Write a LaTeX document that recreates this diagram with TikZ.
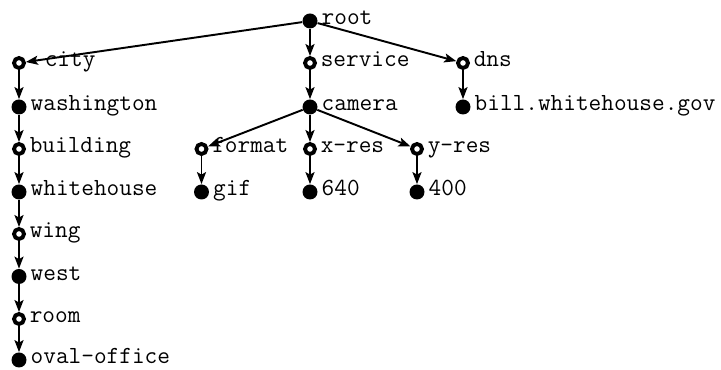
\documentclass[tikz,border=0pt]{standalone}
\usetikzlibrary{arrows.meta}
\begin{document}
\begin{tikzpicture}[
    full/.style = {circle, fill, inner sep = 0pt, minimum size = 0.3cm},
    hollow/.style = {circle, draw, line width = 2.2pt, inner sep = 0pt,
      minimum size = 0.2cm},
    lbl/.style = {anchor = mid west, inner sep = 0pt,
      font = \fontsize{14}{16}\selectfont\ttfamily},
    link/.style = {-{Stealth[length = 2.4mm, width = 1.8mm, inset = 0.5mm]},
      line width = 1.1pt}
  ]
  \useasboundingbox (0, 0) rectangle (14.42, -7.4);

  % points of the tree, with their texts
  \foreach \id/\x/\y/\kind/\dx/\txt in {
      root/6.2/-0.42/full/0/root,
      city/0.38/-1.26/hollow/0.3/city,
      service/6.2/-1.26/hollow/0/service,
      dns/9.26/-1.26/hollow/0/dns,
      washington/0.38/-2.14/full/0/washington,
      camera/6.2/-2.14/full/0/camera,
      bill/9.26/-2.14/full/0/bill.whitehouse.gov,
      building/0.38/-2.98/hollow/0/building,
      format/4.03/-2.98/hollow/0/format,
      xres/6.2/-2.98/hollow/0/x-res,
      yres/8.34/-2.98/hollow/0/y-res,
      whitehouse/0.38/-3.84/full/0/whitehouse,
      gif/4.03/-3.84/full/0/gif,
      n640/6.2/-3.84/full/0/640,
      n400/8.34/-3.84/full/0/400,
      wing/0.38/-4.68/hollow/0/wing,
      west/0.38/-5.53/full/0/west,
      room/0.38/-6.38/hollow/0/room,
      office/0.38/-7.2/full/0/oval-office} {
    \node[\kind] (\id) at (\x, \y) {};
    \node[lbl] (\id-t) at ([xshift = 0.07cm + \dx cm]\id.east) {\txt};
  }

  % arrows
  \foreach \a/\b in {root/city, root/service, root/dns,
      city/washington, service/camera, dns/bill,
      washington/building, camera/format, camera/xres, camera/yres,
      building/whitehouse, format/gif, xres/n640, yres/n400,
      whitehouse/wing, wing/west, west/room, room/office}
    \draw[link] (\a) -- (\b);
\end{tikzpicture}
\end{document}
